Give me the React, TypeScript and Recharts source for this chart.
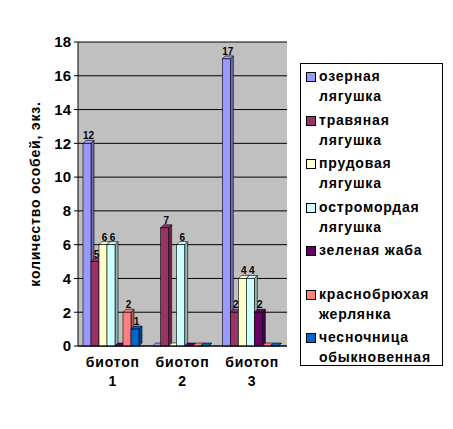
import { Bar, BarChart, CartesianGrid, Label, LabelList, XAxis, YAxis } from 'recharts'

const categories = ['биотоп 1', 'биотоп 2', 'биотоп 3']
const yTicks = [0, 2, 4, 6, 8, 10, 12, 14, 16, 18]
const boundaryTicks = [0, 1, 2, 3]

const lakeFrog = [12, 0, 17]
const grassFrog = [5, 7, 2]
const poolFrog = [6, 0, 4]
const moorFrog = [6, 6, 4]
const greenToad = [0, 0, 2]
const fireBelliedToad = [2, 0, 0]
const spadefoot = [1, 0, 0]

const series = [
  { key: 'lake', name: 'озерная лягушка', color: '#9999FF', side: '#6B6BB3', values: lakeFrog },
  { key: 'grass', name: 'травяная лягушка', color: '#993366', side: '#6B2447', values: grassFrog },
  { key: 'pool', name: 'прудовая лягушка', color: '#FFFFCC', side: '#B3B38F', values: poolFrog },
  { key: 'moor', name: 'остромордая лягушка', color: '#CCFFFF', side: '#8FB3B3', values: moorFrog },
  { key: 'toad', name: 'зеленая жаба', color: '#660066', side: '#470047', values: greenToad },
  { key: 'bombina', name: 'краснобрюхая жерлянка', color: '#FF8080', side: '#B35A5A', values: fireBelliedToad },
  { key: 'pelobates', name: 'чесночница обыкновенная', color: '#0066CC', side: '#00478F', values: spadefoot },
]

const data = categories.map((name, i) => {
  const row: Record<string, string | number> = { name }
  series.forEach((s) => {
    row[s.key] = s.values[i]
  })
  return row
})

const font = '"Liberation Sans", Arial, sans-serif'
const DEPTH = 3
const SHIFT = 2

const makeShape = (color: string, side: string) => (props: any) => {
  const { x, y, width, height } = props
  const fx = x - SHIFT
  const w = width
  const h = Math.max(height || 0, 0)
  return (
    <g>
      <polygon
        points={`${fx + w},${y} ${fx + w + DEPTH},${y - DEPTH} ${fx + w + DEPTH},${y + h - DEPTH} ${fx + w},${y + h}`}
        fill={side}
        stroke="#000"
        strokeWidth={0.6}
      />
      <polygon
        points={`${fx},${y} ${fx + DEPTH},${y - DEPTH} ${fx + w + DEPTH},${y - DEPTH} ${fx + w},${y}`}
        fill={color}
        stroke="#000"
        strokeWidth={0.6}
      />
      <rect x={fx} y={y} width={w} height={h} fill={color} stroke="#000" strokeWidth={0.6} />
    </g>
  )
}

const ValueLabel = (props: any) => {
  const { x, y, width, value } = props
  if (!value) return null
  return (
    <text
      x={x - SHIFT + width / 2 + 1.5}
      y={y - 4}
      textAnchor="middle"
      fontFamily={font}
      fontWeight="bold"
      fontSize={10}
      fill="#000"
    >
      {value}
    </text>
  )
}

const CategoryTick = (props: any) => {
  const { x, y, payload } = props
  const [word, num] = String(payload.value).split(' ')
  return (
    <text x={x} y={y} textAnchor="middle" fontFamily={font} fontWeight="bold" fontSize={14} letterSpacing={0.8} fill="#000">
      <tspan x={x} dy={12}>{word}</tspan>
      <tspan x={x} dy={19}>{num}</tspan>
    </text>
  )
}

const LegendBox = () => (
  <div
    style={{
      position: 'absolute',
      left: 300,
      top: 63,
      width: 141,
      height: 299,
      border: '1px solid #000',
      background: '#fff',
      paddingTop: 2,
    }}
  >
    {series.map((s) => {
      const words = s.name.split(' ')
      return (
        <div key={s.key} style={{ display: 'flex', height: 43.5, alignItems: 'flex-start' }}>
          <div
            style={{
              width: 8,
              height: 8,
              marginLeft: 5,
              marginTop: 6,
              border: '1px solid #000',
              background: s.color,
              flexShrink: 0,
            }}
          />
          <div
            style={{
              marginLeft: 3,
              fontFamily: font,
              fontWeight: 'bold',
              fontSize: 14,
              letterSpacing: 0.8,
              lineHeight: '20px',
              color: '#000',
              whiteSpace: 'nowrap',
            }}
          >
            {s.key === 'toad' ? s.name : words.map((w) => <div key={w}>{w}</div>)}
          </div>
        </div>
      )
    })}
  </div>
)

const App = () => {
  return (
    <div style={{ position: 'absolute', left: 0, top: 0, width: 453, height: 429, background: '#fff' }}>
      <BarChart
        width={453}
        height={429}
        data={data}
        margin={{ top: 42, right: 166, bottom: 0, left: 0 }}
        barGap={0}
        barSize={8}
      >
        <CartesianGrid xAxisId="cat" vertical={false} stroke="#000" fill="#C0C0C0" />
        <XAxis
          xAxisId="bounds"
          type="number"
          domain={[0, 3]}
          ticks={boundaryTicks}
          interval={0}
          tick={false}
          tickSize={5}
          axisLine={{ stroke: '#000' }}
          tickLine={{ stroke: '#000' }}
          height={1}
        />
        <XAxis
          xAxisId="cat"
          dataKey="name"
          axisLine={false}
          tickLine={false}
          tick={<CategoryTick />}
          interval={0}
          height={82}
        />
        <YAxis
          width={78}
          domain={[0, 18]}
          ticks={yTicks}
          interval={0}
          axisLine={{ stroke: '#000' }}
          tickLine={{ stroke: '#000' }}
          tickSize={4}
          tickMargin={3}
          tick={{ fontFamily: font, fontWeight: 'bold', fontSize: 15, fill: '#000' }}
        >
          <Label
            content={({ viewBox }: any) => {
              const cx = viewBox.x + 35
              const cy = viewBox.y + viewBox.height / 2
              return (
                <text
                  x={cx}
                  y={cy}
                  transform={`rotate(-90 ${cx} ${cy})`}
                  textAnchor="middle"
                  dominantBaseline="central"
                  fontFamily={font}
                  fontWeight="bold"
                  fontSize={14}
                  letterSpacing={0.8}
                  fill="#000"
                >
                  количество особей, экз.
                </text>
              )
            }}
          />
        </YAxis>
        {series.map((s) => (
          <Bar
            key={s.key}
            xAxisId="cat"
            dataKey={s.key}
            name={s.name}
            fill={s.color}
            shape={makeShape(s.color, s.side)}
            isAnimationActive={false}
          >
            <LabelList dataKey={s.key} content={<ValueLabel />} />
          </Bar>
        ))}
      </BarChart>
      <LegendBox />
    </div>
  )
}

export default App
